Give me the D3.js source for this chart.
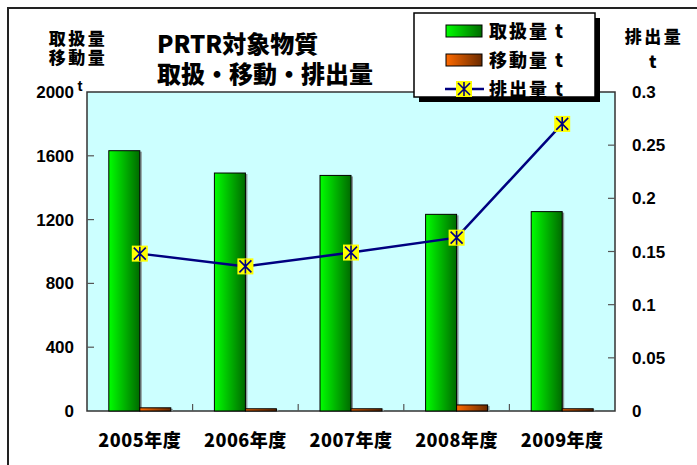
<!DOCTYPE html>
<html>
<head>
<meta charset="utf-8">
<script src="https://cdn.jsdelivr.net/npm/d3@7"></script>
<style>
  body { margin: 0; background: #fff; }
  svg text { font-family: "Noto Sans CJK JP", "Liberation Sans", sans-serif; font-weight: 900; fill: #000; }
  svg text.num { font-family: "Liberation Sans", Arial, sans-serif; font-weight: bold; }
</style>
</head>
<body>
<div id="chart"></div>
<script>
// データ
const years = ["2005年度", "2006年度", "2007年度", "2008年度", "2009年度"];
const handled = [1632, 1492, 1477, 1233, 1250];   // 取扱量 t
const moved = [20, 14, 14, 38, 14];               // 移動量 t
const released = [0.148, 0.136, 0.149, 0.163, 0.270]; // 排出量 t
const leftTicks = [0, 400, 800, 1200, 1600, 2000];
const rightTicks = [0, 0.05, 0.1, 0.15, 0.2, 0.25, 0.3];

const width = 697, height = 465;
const plot = { left: 87, right: 615, top: 92, bottom: 411 };

const svg = d3.select("#chart").append("svg")
  .attr("width", width).attr("height", height);

const defs = svg.append("defs");
function grad(id, c1, c2) {
  const g = defs.append("linearGradient").attr("id", id)
    .attr("x1", "0%").attr("x2", "100%").attr("y1", "0%").attr("y2", "0%");
  g.append("stop").attr("offset", "0%").attr("stop-color", c1);
  g.append("stop").attr("offset", "100%").attr("stop-color", c2);
}
grad("gGreen", "#00ff00", "#006a00");
grad("gOrange", "#ff6a00", "#6a2a00");

// 外枠
svg.append("rect")
  .attr("x", 8).attr("y", 8)
  .attr("width", width + 20).attr("height", height + 20)
  .attr("fill", "none").attr("stroke", "#222").attr("stroke-width", 2);

// スケール
const x = d3.scaleBand().domain(years).range([plot.left, plot.right]);
const yL = d3.scaleLinear().domain([0, 2000]).range([plot.bottom, plot.top]);
const yR = d3.scaleLinear().domain([0, 0.3]).range([plot.bottom, plot.top]);
const barW = 31;

// 背景
svg.append("rect")
  .attr("x", plot.left).attr("y", plot.top)
  .attr("width", plot.right - plot.left).attr("height", plot.bottom - plot.top)
  .attr("fill", "#ccffff").attr("stroke", "#333").attr("stroke-width", 1.5);

// 棒グラフ（影つき）
function bars(data, offset, fill) {
  const g = svg.append("g");
  g.selectAll("rect.sh").data(data).enter().append("rect")
    .attr("x", (d, i) => x(years[i]) + x.bandwidth() / 2 + offset + 2)
    .attr("y", d => yL(d) + 1)
    .attr("width", barW)
    .attr("height", d => plot.bottom - yL(d) - 1)
    .attr("fill", "#8a9a9a");
  g.selectAll("rect.bar").data(data).enter().append("rect")
    .attr("x", (d, i) => x(years[i]) + x.bandwidth() / 2 + offset)
    .attr("y", d => yL(d))
    .attr("width", barW)
    .attr("height", d => plot.bottom - yL(d))
    .attr("fill", fill)
    .attr("stroke", "#000").attr("stroke-width", 1);
}
bars(handled, -barW, "url(#gGreen)");
bars(moved, 0, "url(#gOrange)");

// 目盛り（内向き）
const tickG = svg.append("g").attr("stroke", "#555").attr("stroke-width", 1.2);
leftTicks.slice(1, -1).forEach(t => {
  tickG.append("line").attr("x1", plot.left).attr("x2", plot.left + 7)
    .attr("y1", yL(t)).attr("y2", yL(t));
});
rightTicks.slice(1, -1).forEach(t => {
  tickG.append("line").attr("x1", plot.right - 7).attr("x2", plot.right)
    .attr("y1", yR(t)).attr("y2", yR(t));
});
years.slice(1).forEach(c => {
  tickG.append("line").attr("x1", x(c)).attr("x2", x(c))
    .attr("y1", plot.bottom).attr("y2", plot.bottom - 7);
});

// 排出量の折れ線
const line = d3.line()
  .x((d, i) => x(years[i]) + x.bandwidth() / 2)
  .y(d => yR(d));
svg.append("path").datum(released)
  .attr("d", line)
  .attr("fill", "none").attr("stroke", "#000080").attr("stroke-width", 2.5);

function marker(g, cx, cy) {
  g.append("rect").attr("x", cx - 8).attr("y", cy - 8)
    .attr("width", 16).attr("height", 16).attr("fill", "#ffff00");
  const s = 6;
  g.append("path")
    .attr("d", `M${cx - s},${cy - s}L${cx + s},${cy + s}M${cx - s},${cy + s}L${cx + s},${cy - s}M${cx},${cy - s - 1}L${cx},${cy + s + 1}`)
    .attr("stroke", "#000080").attr("stroke-width", 1.6);
}
const mg = svg.append("g");
released.forEach((d, i) => marker(mg, x(years[i]) + x.bandwidth() / 2, yR(d)));

// 軸ラベル
svg.append("g").selectAll("text").data(leftTicks).enter().append("text")
  .attr("class", "num")
  .attr("x", 74).attr("y", d => yL(d) + 6)
  .attr("text-anchor", "end").attr("font-size", 17)
  .text(d => d);
svg.append("g").selectAll("text").data(rightTicks).enter().append("text")
  .attr("class", "num")
  .attr("x", 632).attr("y", d => yR(d) + 6)
  .attr("font-size", 17)
  .text(d => d);
svg.append("g").selectAll("text").data(years).enter().append("text")
  .attr("x", d => x(d) + x.bandwidth() / 2).attr("y", 447)
  .attr("text-anchor", "middle").attr("font-size", 18)
  .attr("letter-spacing", 0.5)
  .text(d => d);

// 軸タイトル
const lt = svg.append("text").attr("text-anchor", "middle")
  .attr("font-size", 17).attr("letter-spacing", 2.5);
lt.append("tspan").attr("x", 78).attr("y", 45).text("取扱量");
lt.append("tspan").attr("x", 78).attr("y", 64).text("移動量");
svg.append("text").attr("x", 80).attr("y", 91).attr("text-anchor", "middle")
  .attr("class", "num").attr("font-size", 15).text("t");
const rt = svg.append("text").attr("text-anchor", "middle")
  .attr("font-size", 17).attr("letter-spacing", 2.5);
rt.append("tspan").attr("x", 654).attr("y", 43).text("排出量");
rt.append("tspan").attr("x", 654).attr("y", 68).attr("class", "num").text("t");

// タイトル
const tt = svg.append("text").attr("font-size", 24);
tt.append("tspan").attr("x", 157).attr("y", 53).text("PRTR対象物質");
tt.append("tspan").attr("x", 157).attr("y", 83).text("取扱・移動・排出量");

// 凡例
const lg = svg.append("g");
lg.append("rect").attr("x", 419).attr("y", 18).attr("width", 181).attr("height", 84).attr("fill", "#000");
lg.append("rect").attr("x", 414).attr("y", 13).attr("width", 181).attr("height", 84)
  .attr("fill", "#fff").attr("stroke", "#000").attr("stroke-width", 1.5);
const items = [
  { label: "取扱量 t", fill: "url(#gGreen)" },
  { label: "移動量 t", fill: "url(#gOrange)" },
  { label: "排出量 t", fill: null }
];
items.forEach((it, i) => {
  const cy = 31 + i * 29;
  if (it.fill) {
    lg.append("rect").attr("x", 446).attr("y", cy - 6).attr("width", 36).attr("height", 12)
      .attr("fill", it.fill).attr("stroke", "#000").attr("stroke-width", 1);
  } else {
    lg.append("line").attr("x1", 445).attr("x2", 484).attr("y1", cy).attr("y2", cy)
      .attr("stroke", "#000080").attr("stroke-width", 2.5);
    marker(lg, 464, cy);
  }
  lg.append("text").attr("x", 489).attr("y", cy + 7).attr("font-size", 18)
    .attr("letter-spacing", 2)
    .text(it.label);
});
</script>
</body>
</html>
